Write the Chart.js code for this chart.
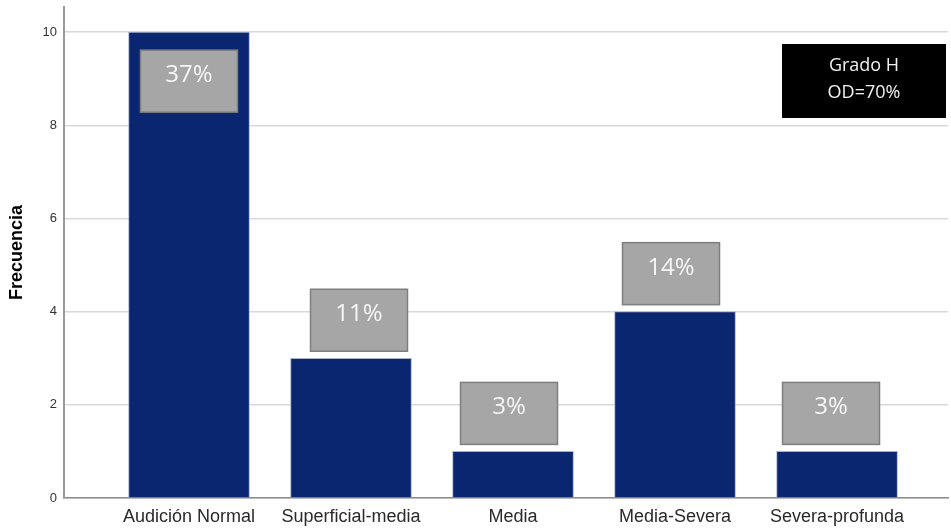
<!DOCTYPE html>
<html>
<head>
<meta charset="utf-8">
<script src="https://cdn.jsdelivr.net/npm/chart.js@4.4.1/dist/chart.umd.min.js"></script>
<style>
html,body{margin:0;padding:0;background:#fff;}
#wrap{width:951px;height:529px;position:relative;}
</style>
</head>
<body>
<div id="wrap"><canvas id="c" width="951" height="529"></canvas></div>
<script>
const categories = ["Audición Normal", "Superficial-media", "Media", "Media-Severa", "Severa-profunda"];
const frecuencias = [10, 3, 1, 4, 1];
const porcentajes = ["37%", "11%", "3%", "14%", "3%"];
const yTicks = [0, 2, 4, 6, 8, 10];
const legendLines = ["Grado H", "OD=70%"];

const boxStyle = { dx: [0, 8, -4, -4, -6], w: 97, h: 62 };

const pctPlugin = {
  id: 'pctBoxes',
  afterDatasetsDraw(chart) {
    const ctx = chart.ctx;
    const meta = chart.getDatasetMeta(0);
    const maxV = Math.max(...frecuencias);
    meta.data.forEach((bar, i) => {
      const cx = bar.x + boxStyle.dx[i];
      let top;
      if (frecuencias[i] === maxV) top = bar.y + 18;
      else top = bar.y - 7 - boxStyle.h;
      ctx.save();
      ctx.fillStyle = '#a6a6a6';
      ctx.strokeStyle = '#7f7f7f';
      ctx.lineWidth = 1.5;
      ctx.fillRect(cx - boxStyle.w / 2, top, boxStyle.w, boxStyle.h);
      ctx.strokeRect(cx - boxStyle.w / 2, top, boxStyle.w, boxStyle.h);
      ctx.fillStyle = '#f7f7f7';
      ctx.font = '24px "Open Sans", "Noto Sans", sans-serif';
      ctx.textAlign = 'center';
      ctx.textBaseline = 'middle';
      ctx.fillText(porcentajes[i], cx, top + 25);
      ctx.restore();
    });
    ctx.save();
    const lx = 782, ly = 44, lw = 164, lh = 74;
    ctx.fillStyle = '#000';
    ctx.fillRect(lx, ly, lw, lh);
    ctx.fillStyle = '#f2f2f2';
    ctx.font = '18px "Open Sans", "Noto Sans", sans-serif';
    ctx.textAlign = 'center';
    ctx.textBaseline = 'middle';
    ctx.fillText(legendLines[0], lx + lw / 2, ly + 22);
    ctx.fillText(legendLines[1], lx + lw / 2, ly + 49);
    ctx.restore();
  }
};

new Chart(document.getElementById('c'), {
  type: 'bar',
  data: {
    datasets: [{
      data: frecuencias.map((v, i) => ({ x: i, y: v })),
      backgroundColor: '#0b2671',
      borderColor: '#aab4cf',
      borderWidth: 1,
      barThickness: 121,
      borderSkipped: 'bottom'
    }]
  },
  options: {
    responsive: false,
    animation: false,
    layout: { padding: { top: 7, right: 3, left: 0, bottom: 0 } },
    plugins: { legend: { display: false }, tooltip: { enabled: false } },
    scales: {
      x: {
        type: 'linear',
        offset: false,
        min: -0.7716,
        max: 4.685,
        grid: { display: false, drawTicks: false, offset: false },
        border: { display: true, color: '#8c8c8c', width: 1.5 },
        afterBuildTicks(axis) { axis.ticks = categories.map((c, i) => ({ value: i })); },
        afterFit(axis) { axis.height = 31; },
        ticks: {
          autoSkip: false, maxRotation: 0, padding: 8,
          color: '#2a2a2a',
          font: { family: 'Arial, "Liberation Sans", sans-serif', size: 18 },
          callback: (v) => categories[v] ?? ''
        }
      },
      y: {
        min: 0,
        max: 10.54,
        afterBuildTicks(axis) { axis.ticks = yTicks.map(v => ({ value: v })); },
        afterFit(axis) { axis.width = 64; axis.paddingTop = 0; axis.paddingBottom = 0; },
        grid: { color: '#d9d9d9', lineWidth: 1.5, drawTicks: false },
        border: { display: true, color: '#9a9a9a', width: 2 },
        ticks: {
          padding: 7,
          color: '#333',
          font: { family: 'Arial, "Liberation Sans", sans-serif', size: 13 }
        },
        title: {
          display: true,
          text: 'Frecuencia',
          color: '#000',
          font: { family: 'Arial, "Liberation Sans", sans-serif', size: 18, weight: 'bold' },
          padding: { top: 6, bottom: 0 }
        }
      }
    }
  },
  plugins: [pctPlugin]
});
</script>
</body>
</html>
